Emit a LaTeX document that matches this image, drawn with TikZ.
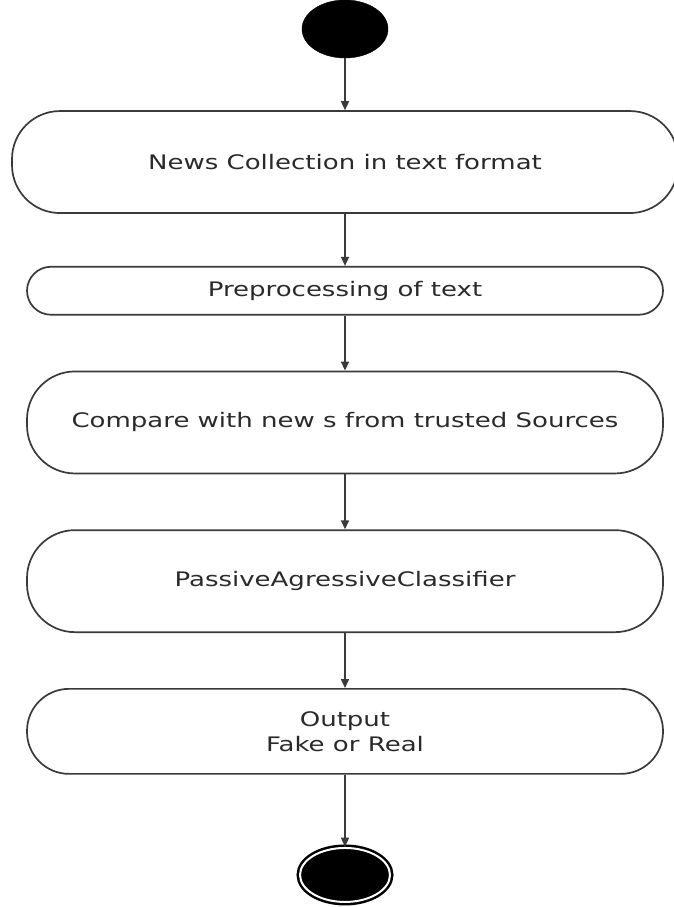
\documentclass[tikz,border=0pt]{standalone}
\usepackage{fontspec}
\setmainfont{DejaVu Sans}[FakeStretch=1.3]
\usepackage{tikz}
\usepackage{xcolor}
\usetikzlibrary{positioning,arrows.meta,shapes.geometric}
\definecolor{edgegray}{HTML}{3A3A3A}
\definecolor{textgray}{HTML}{2A2A2A}

\begin{document}
\begin{tikzpicture}[
  x=1pt, y=-1pt,
  stage/.style={rectangle, draw=edgegray, line width=1.7pt, fill=white,
              minimum width=636pt, minimum height=102pt, inner sep=0pt,
              rounded corners=48pt, align=center, text=textgray,
              font=\fontsize{20}{25}\selectfont},
  arr/.style={-{Triangle[length=9pt,width=8pt]}, line width=1.5pt, edgegray},
]
\useasboundingbox (0,0) rectangle (674,907);

% Start
\node[ellipse, fill=black, draw=black, minimum width=86pt, minimum height=58pt] (start) at (345,29) {};

% Stages
\node[stage, below=52pt of start, minimum width=666pt] (collect) {News Collection in text format};
\node[stage, below=52pt of collect, minimum height=48pt, rounded corners=24pt] (prep) {Preprocessing of text};
\node[stage, below=55pt of prep] (compare) {Compare with new s from trusted Sources};
\node[stage, below=55pt of compare] (classify) {PassiveAgressiveClassifier};
\node[stage, below=55pt of classify, minimum height=85pt, rounded corners=42pt] (output) {Output\\Fake or Real};

% End
\node[ellipse, fill=black, draw=black, double=white, double distance=2pt, line width=2.5pt,
      minimum width=90pt, minimum height=54pt, below=72pt of output] (stop) {};

% Arrows
\draw[arr] (start) -- (collect);
\draw[arr] (collect) -- (prep);
\draw[arr] (prep) -- (compare);
\draw[arr] (compare) -- (classify);
\draw[arr] (classify) -- (output);
\draw[arr] (output) -- (stop);

\end{tikzpicture}
\end{document}
